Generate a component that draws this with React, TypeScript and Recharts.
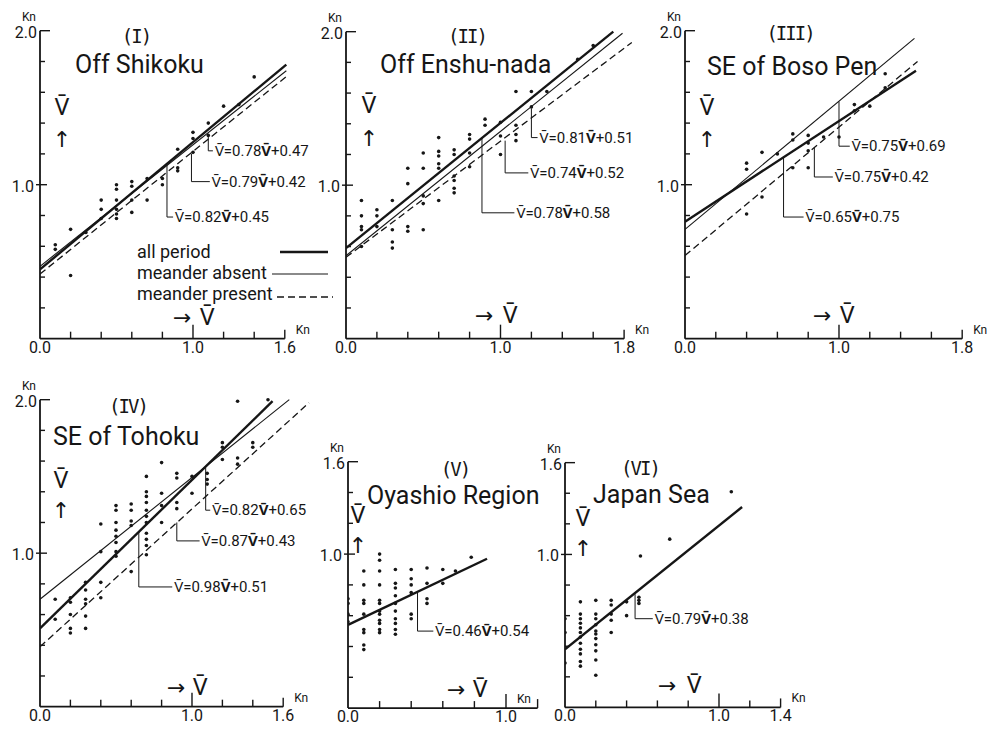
import React from 'react';
import { ScatterChart, Scatter, XAxis, YAxis, ReferenceLine, ReferenceDot, Legend } from 'recharts';

const INK = '#161616';
const FONT = 'Roboto, "Noto Sans", "DejaVu Sans", sans-serif';
const MONO = '"DejaVu Sans Mono", monospace';
const VBAR = 'V\u0304';

type Pair = [number, number];

// ---------- tick values / labels ----------
const xTicks12 = [0, 0.2, 0.4, 0.6, 0.8, 1.0, 1.2];
const xTicks14 = [0, 0.2, 0.4, 0.6, 0.8, 1.0, 1.2, 1.4];
const xTicks16 = [0, 0.2, 0.4, 0.6, 0.8, 1.0, 1.2, 1.4, 1.6];
const xTicks18 = [0, 0.2, 0.4, 0.6, 0.8, 1.0, 1.2, 1.4, 1.6, 1.8];
const yTicks16 = [0.2, 0.4, 0.6, 0.8, 1.0, 1.2, 1.4, 1.6];
const yTicks20 = [0.2, 0.4, 0.6, 0.8, 1.0, 1.2, 1.4, 1.6, 1.8, 2.0];
const xLabels16 = [{ v: 0, t: '0.0' }, { v: 1, t: '1.0' }, { v: 1.6, t: '1.6', kn: true }];
const xLabels18 = [{ v: 0, t: '0.0' }, { v: 1, t: '1.0' }, { v: 1.8, t: '1.8', kn: true }];
const xLabels12 = [{ v: 0, t: '0.0' }, { v: 1, t: '1.0', kn: true }];
const xLabels14 = [{ v: 0, t: '0.0' }, { v: 1, t: '1.0' }, { v: 1.4, t: '1.4', kn: true }];
const yLabels20 = [{ v: 1, t: '1.0' }, { v: 2, t: '2.0', kn: true }];
const yLabels16 = [{ v: 1, t: '1.0' }, { v: 1.6, t: '1.6', kn: true }];

const legendLabels = ['all period', 'meander absent', 'meander present'];
const legendKinds = ['all', 'absent', 'present'];

// ---------- scatter points ----------
const shikokuPoints: Pair[] = [
  [0.1, 0.61], [0.1, 0.58], [0.2, 0.71], [0.2, 0.41], [0.3, 0.69],
  [0.4, 0.9], [0.4, 0.84], [0.4, 0.78],
  [0.5, 1.0], [0.5, 0.97], [0.5, 0.9], [0.5, 0.84], [0.5, 0.81], [0.5, 0.78],
  [0.6, 1.02], [0.6, 0.99], [0.6, 0.9], [0.6, 0.82],
  [0.7, 1.04], [0.7, 0.9], [0.8, 1.04], [0.8, 1.0],
  [0.9, 1.23], [0.9, 1.11], [0.9, 1.09], [1.0, 1.34], [1.0, 1.3], [1.0, 1.21],
  [1.1, 1.4], [1.1, 1.32], [1.2, 1.51], [1.3, 1.52], [1.4, 1.7],
];
const enshuPoints: Pair[] = [
  [0.1, 0.9], [0.1, 0.8], [0.1, 0.73], [0.1, 0.71], [0.1, 0.6],
  [0.2, 0.84], [0.2, 0.8], [0.2, 0.73],
  [0.3, 0.9], [0.3, 0.71], [0.3, 0.63], [0.3, 0.59],
  [0.4, 1.11], [0.4, 1.01], [0.4, 0.73], [0.4, 0.7],
  [0.5, 1.21], [0.5, 1.11], [0.5, 0.93], [0.5, 0.88], [0.5, 0.71],
  [0.6, 1.31], [0.6, 1.22], [0.6, 1.19], [0.6, 1.14], [0.6, 1.11], [0.6, 0.9],
  [0.7, 1.23], [0.7, 1.2], [0.7, 1.06], [0.7, 1.03], [0.7, 0.98], [0.7, 0.95],
  [0.8, 1.33], [0.8, 1.3], [0.8, 1.21], [0.8, 1.12],
  [0.9, 1.43], [0.9, 1.39], [1.0, 1.41], [1.0, 1.32], [1.0, 1.2],
  [1.1, 1.61], [1.1, 1.39], [1.1, 1.33], [1.1, 1.29],
  [1.2, 1.61], [1.2, 1.51], [1.3, 1.61], [1.5, 1.82], [1.6, 1.91],
];
const bosoPoints: Pair[] = [
  [0.4, 1.14], [0.4, 1.1], [0.4, 0.81], [0.5, 1.21], [0.5, 0.92], [0.6, 1.2],
  [0.7, 1.33], [0.7, 1.29], [0.7, 1.11],
  [0.8, 1.32], [0.8, 1.27], [0.8, 1.22], [0.8, 1.11],
  [0.9, 1.31], [1.0, 1.31], [1.1, 1.52], [1.1, 1.48], [1.2, 1.51], [1.3, 1.72], [1.3, 1.63],
];
const tohokuPoints: Pair[] = [
  [0.1, 0.7], [0.1, 0.57],
  [0.2, 0.71], [0.2, 0.68], [0.2, 0.6], [0.2, 0.51], [0.2, 0.48],
  [0.3, 0.81], [0.3, 0.76], [0.3, 0.7], [0.3, 0.67], [0.3, 0.59], [0.3, 0.51],
  [0.4, 1.19], [0.4, 1.01], [0.4, 0.81], [0.4, 0.71],
  [0.5, 1.31], [0.5, 1.28], [0.5, 1.2], [0.5, 1.15], [0.5, 1.11], [0.5, 1.07], [0.5, 1.01], [0.5, 0.98],
  [0.6, 1.32], [0.6, 1.28], [0.6, 1.21], [0.6, 1.18], [0.6, 0.88],
  [0.7, 1.5], [0.7, 1.4], [0.7, 1.37], [0.7, 1.33], [0.7, 1.28], [0.7, 1.24], [0.7, 1.2],
  [0.7, 1.13], [0.7, 1.09], [0.7, 1.05], [0.7, 0.99],
  [0.8, 1.59], [0.8, 1.39], [0.8, 1.31], [0.8, 1.2],
  [0.9, 1.52], [0.9, 1.49], [0.9, 1.33], [0.9, 1.29],
  [1.0, 1.5], [1.0, 1.39], [1.1, 1.52], [1.1, 1.48], [1.1, 1.45],
  [1.2, 1.72], [1.2, 1.69], [1.2, 1.61], [1.3, 1.99], [1.3, 1.62], [1.3, 1.58],
  [1.4, 1.72], [1.4, 1.69], [1.5, 2.0],
];
const oyashioPoints: Pair[] = [
  [0, 0.71], [0, 0.68], [0, 0.61], [0, 0.56],
  [0.1, 0.89], [0.1, 0.8], [0.1, 0.7], [0.1, 0.68], [0.1, 0.61], [0.1, 0.51], [0.1, 0.49], [0.1, 0.41], [0.1, 0.38],
  [0.2, 1.0], [0.2, 0.96], [0.2, 0.89], [0.2, 0.8], [0.2, 0.7], [0.2, 0.68], [0.2, 0.63], [0.2, 0.61],
  [0.2, 0.57], [0.2, 0.55], [0.2, 0.51], [0.2, 0.49],
  [0.3, 0.9], [0.3, 0.81], [0.3, 0.78], [0.3, 0.73], [0.3, 0.68], [0.3, 0.63], [0.3, 0.58], [0.3, 0.55], [0.3, 0.51], [0.3, 0.48],
  [0.4, 0.9], [0.4, 0.84], [0.4, 0.8], [0.4, 0.75], [0.4, 0.61], [0.4, 0.58],
  [0.5, 0.91], [0.5, 0.81], [0.5, 0.71], [0.5, 0.68],
  [0.6, 0.9], [0.6, 0.81], [0.68, 0.89], [0.78, 0.98],
];
const japanSeaPoints: Pair[] = [
  [0, 0.58], [0, 0.49], [0, 0.29],
  [0.1, 0.69], [0.1, 0.61], [0.1, 0.58], [0.1, 0.55], [0.1, 0.52], [0.1, 0.49], [0.1, 0.46],
  [0.1, 0.42], [0.1, 0.38], [0.1, 0.35], [0.1, 0.3], [0.1, 0.27],
  [0.2, 0.7], [0.2, 0.61], [0.2, 0.58], [0.2, 0.54], [0.2, 0.5], [0.2, 0.48], [0.2, 0.45],
  [0.2, 0.41], [0.2, 0.37], [0.2, 0.31], [0.2, 0.21],
  [0.3, 0.7], [0.3, 0.67], [0.3, 0.61], [0.3, 0.57], [0.3, 0.49],
  [0.4, 0.69], [0.4, 0.6], [0.48, 0.72], [0.48, 0.7], [0.48, 0.68],
  [0.49, 0.99], [0.68, 1.1], [1.08, 1.41],
];

// ---------- regression lines (end points) ----------
const shikokuAll: Pair[] = [[0, 0.45], [1.61, 1.78]];
const shikokuAbsent: Pair[] = [[0, 0.47], [1.61, 1.74]];
const shikokuPresent: Pair[] = [[0, 0.42], [1.62, 1.71]];
const enshuAll: Pair[] = [[0, 0.59], [1.73, 2.0]];
const enshuAbsent: Pair[] = [[0, 0.54], [1.79, 1.99]];
const enshuPresent: Pair[] = [[0, 0.53], [1.85, 1.93]];
const bosoAll: Pair[] = [[0, 0.76], [1.5, 1.74]];
const bosoAbsent: Pair[] = [[0, 0.71], [1.49, 1.95]];
const bosoPresent: Pair[] = [[0, 0.54], [1.51, 1.8]];
const tohokuAll: Pair[] = [[0, 0.51], [1.53, 1.99]];
const tohokuAbsent: Pair[] = [[0, 0.7], [1.64, 2.0]];
const tohokuPresent: Pair[] = [[0, 0.39], [1.77, 1.98]];
const oyashioAll: Pair[] = [[0, 0.54], [0.88, 0.97]];
const japanSeaAll: Pair[] = [[0, 0.38], [1.15, 1.31]];

// ---------- regression equations with their leader anchors (data units) ----------
const shikokuEqs = [
  { x: 1.1, yTop: 1.33, yBot: 1.22, xText: 1.13, coef: '0.78', icpt: '0.47' },
  { x: 0.99, yTop: 1.2, yBot: 1.02, xText: 1.11, coef: '0.79', icpt: '0.42' },
  { x: 0.83, yTop: 1.13, yBot: 0.79, xText: 0.87, coef: '0.82', icpt: '0.45' },
];
const enshuEqs = [
  { x: 1.2, yTop: 1.5, yBot: 1.31, xText: 1.24, coef: '0.81', icpt: '0.51' },
  { x: 1.03, yTop: 1.29, yBot: 1.08, xText: 1.18, coef: '0.74', icpt: '0.52' },
  { x: 0.88, yTop: 1.31, yBot: 0.82, xText: 1.09, coef: '0.78', icpt: '0.58' },
];
const bosoEqs = [
  { x: 1.0, yTop: 1.54, yBot: 1.25, xText: 1.07, coef: '0.75', icpt: '0.69' },
  { x: 0.84, yTop: 1.24, yBot: 1.05, xText: 0.96, coef: '0.75', icpt: '0.42' },
  { x: 0.64, yTop: 1.18, yBot: 0.79, xText: 0.77, coef: '0.65', icpt: '0.75' },
];
const tohokuEqs = [
  { x: 1.09, yTop: 1.56, yBot: 1.28, xText: 1.12, coef: '0.82', icpt: '0.65' },
  { x: 0.9, yTop: 1.2, yBot: 1.08, xText: 1.05, coef: '0.87', icpt: '0.43' },
  { x: 0.65, yTop: 1.14, yBot: 0.78, xText: 0.87, coef: '0.98', icpt: '0.51' },
];
const oyashioEqs = [{ x: 0.44, yTop: 0.75, yBot: 0.5, xText: 0.54, coef: '0.46', icpt: '0.54' }];
const japanSeaEqs = [{ x: 0.455, yTop: 0.74, yBot: 0.58, xText: 0.57, coef: '0.79', icpt: '0.38' }];

// ---------- styles ----------
const lineStyles: Record<string, any> = {
  all: { stroke: INK, strokeWidth: 2.4 },
  absent: { stroke: INK, strokeWidth: 1.1 },
  present: { stroke: INK, strokeWidth: 1.3, strokeDasharray: '7 4' },
};

const toPts = (a: Pair[]) => a.map(([x, y]) => ({ x, y }));
const near = (a: number, b: number) => Math.abs(a - b) < 1e-6;

const LW = 50, TM = 40, RM = 70, BH = 30;

const panels = [
  {
    id: 'I', ox: 40, oy: 339, px: 153, py: 154, xMax: 1.65, yMax: 2.05, xEnd: 1.6, yEnd: 2.0,
    xTicks: xTicks16, yTicks: yTicks20, xLabels: xLabels16, yLabels: yLabels20,
    points: shikokuPoints, lines: [['all', shikokuAll], ['absent', shikokuAbsent], ['present', shikokuPresent]],
    eqs: shikokuEqs, legend: true,
    numeral: { t: '(I)', x: 136, y: 43 }, title: { t: 'Off Shikoku', x: 75, y: 73 },
    vUp: { x: 62, y: 115, ay: 147 }, vRight: { ax: 173, vx: 200, y: 325 },
  },
  {
    id: 'II', ox: 346, oy: 339, px: 154.5, py: 153.5, xMax: 1.88, yMax: 2.05, xEnd: 1.8, yEnd: 2.0,
    xTicks: xTicks18, yTicks: yTicks20, xLabels: xLabels18, yLabels: yLabels20,
    points: enshuPoints, lines: [['all', enshuAll], ['absent', enshuAbsent], ['present', enshuPresent]],
    eqs: enshuEqs, legend: false,
    numeral: { t: '(II)', x: 467, y: 43 }, title: { t: 'Off Enshu-nada', x: 380, y: 73 },
    vUp: { x: 369, y: 113, ay: 146 }, vRight: { ax: 475, vx: 503, y: 323 },
  },
  {
    id: 'III', ox: 685, oy: 339, px: 154, py: 154, xMax: 1.8, yMax: 2.05, xEnd: 1.8, yEnd: 2.0,
    xTicks: xTicks18, yTicks: yTicks20, xLabels: xLabels18, yLabels: yLabels20,
    points: bosoPoints, lines: [['all', bosoAll], ['absent', bosoAbsent], ['present', bosoPresent]],
    eqs: bosoEqs, legend: false,
    numeral: { t: '(III)', x: 790, y: 40 }, title: { t: 'SE of Boso Pen', x: 707, y: 75 },
    vUp: { x: 707, y: 115, ay: 147 }, vRight: { ax: 813, vx: 840, y: 323 },
  },
  {
    id: 'IV', ox: 40, oy: 707, px: 152, py: 153.5, xMax: 1.8, yMax: 2.05, xEnd: 1.6, yEnd: 2.0,
    xTicks: xTicks16, yTicks: yTicks20, xLabels: xLabels16, yLabels: yLabels20,
    points: tohokuPoints, lines: [['all', tohokuAll], ['absent', tohokuAbsent], ['present', tohokuPresent]],
    eqs: tohokuEqs, legend: false,
    numeral: { t: '(IV)', x: 128, y: 413 }, title: { t: 'SE of Tohoku', x: 53, y: 445 },
    vUp: { x: 61, y: 488, ay: 518 }, vRight: { ax: 167, vx: 193, y: 695 },
  },
  {
    id: 'V', ox: 348, oy: 708, px: 158, py: 154, xMax: 1.2, yMax: 1.65, xEnd: 1.2, yEnd: 1.6,
    xTicks: xTicks12, yTicks: yTicks16, xLabels: xLabels12, yLabels: yLabels16,
    points: oyashioPoints, lines: [['all', oyashioAll]],
    eqs: oyashioEqs, legend: false,
    numeral: { t: '(V)', x: 455, y: 476 }, title: { t: 'Oyashio Region', x: 367, y: 504 },
    vUp: { x: 358, y: 523, ay: 553 }, vRight: { ax: 447, vx: 473, y: 697 },
  },
  {
    id: 'VI', ox: 565, oy: 707, px: 154, py: 153, xMax: 1.4, yMax: 1.65, xEnd: 1.4, yEnd: 1.6,
    xTicks: xTicks14, yTicks: yTicks16, xLabels: xLabels14, yLabels: yLabels16,
    points: japanSeaPoints, lines: [['all', japanSeaAll]],
    eqs: japanSeaEqs, legend: false,
    numeral: { t: '(VI)', x: 640, y: 475 }, title: { t: 'Japan Sea', x: 593, y: 503 },
    vUp: { x: 583, y: 526, ay: 556 }, vRight: { ax: 658, vx: 687, y: 693 },
  },
];

function XTick(props: any) {
  const { x, y, payload, cfg } = props;
  const v = Number(payload.value);
  let len = 7;
  if (near(v, 0)) len = 0;
  else if (near(v, 1)) len = 14;
  else if (near(v, cfg.xEnd)) len = 9;
  const lab = cfg.xLabels.find((l: any) => near(l.v, v));
  return (
    <g>
      {len > 0 && <line x1={x} y1={y} x2={x} y2={y - len} stroke={INK} strokeWidth={1.4} />}
      {lab && (
        <text x={x} y={y + 14} textAnchor="middle" fontSize={16} fontFamily={FONT} fill={INK}>{lab.t}</text>
      )}
      {lab && lab.kn && (
        <text x={x + 11} y={y - 5} fontSize={12} fontFamily={FONT} fill={INK}>Kn</text>
      )}
    </g>
  );
}

function YTick(props: any) {
  const { x, y, payload, cfg } = props;
  const v = Number(payload.value);
  const top = near(v, cfg.yEnd);
  const one = near(v, 1);
  const x1 = one ? x - 4 : x;
  const x2 = top ? x + 10 : one ? x + 7 : x + 5;
  const lab = cfg.yLabels.find((l: any) => near(l.v, v));
  return (
    <g>
      <line x1={x1} y1={y} x2={x2} y2={y} stroke={INK} strokeWidth={1.4} />
      {lab && (
        <text x={top ? x - 3 : x - 6} y={y + 7} textAnchor="end" fontSize={16} fontFamily={FONT} fill={INK}>{lab.t}</text>
      )}
      {lab && lab.kn && (
        <text x={x - 18} y={y - 10} fontSize={12} fontFamily={FONT} fill={INK}>Kn</text>
      )}
    </g>
  );
}

function EqText({ vb, coef, icpt }: any) {
  if (!vb) return null;
  return (
    <text x={vb.x + 2} y={vb.y + 5} fontSize={15} fontFamily={FONT} fill={INK}>
      <tspan>{VBAR + '=' + coef}</tspan>
      <tspan fontWeight={700}>{VBAR}</tspan>
      <tspan>{'+' + icpt}</tspan>
    </text>
  );
}

const legendLineX = [[143, 191], [135, 191], [140, 196]];
const legendLineY = [12, 34, 57];

function LegendContent() {
  return (
    <svg width={220} height={70} style={{ display: 'block', overflow: 'visible' }}>
      {legendLabels.map((name, i) => (
        <g key={name}>
          <text x={0} y={18 + 21 * i} fontSize={18} fontFamily={FONT} fill={INK}>{name}</text>
          <line x1={legendLineX[i][0]} x2={legendLineX[i][1]} y1={legendLineY[i]} y2={legendLineY[i]}
            {...lineStyles[legendKinds[i]]} />
        </g>
      ))}
    </svg>
  );
}

const Dot = (p: any) => <circle cx={p.cx} cy={p.cy} r={1.8} fill={INK} />;
const NoShape = () => <g />;

function Panel({ cfg }: { cfg: any }) {
  const { ox, oy, px, py, xMax, yMax } = cfg;
  const left = ox - LW;
  const top = oy - yMax * py - TM;
  const width = LW + xMax * px + RM;
  const height = TM + yMax * py + BH;
  const L = (ax: number) => ax - left;
  const T = (ay: number) => ay - top;
  return (
    <div style={{ position: 'absolute', left, top, width, height }}>
      <ScatterChart width={width} height={height} margin={{ top: TM, right: RM, left: 0, bottom: 0 }}>
        <XAxis type="number" dataKey="x" domain={[0, xMax]} allowDataOverflow ticks={cfg.xTicks} interval={0}
          axisLine={false} tickLine={false} tickSize={0} tickMargin={0} height={BH}
          tick={(p: any) => <XTick {...p} cfg={cfg} />} />
        <YAxis type="number" dataKey="y" domain={[0, yMax]} allowDataOverflow ticks={cfg.yTicks} interval={0}
          axisLine={false} tickLine={false} tickSize={0} tickMargin={0} width={LW}
          tick={(p: any) => <YTick {...p} cfg={cfg} />} />
        <ReferenceLine segment={[{ x: 0, y: 0 }, { x: cfg.xEnd, y: 0 }]} stroke={INK} strokeWidth={1.8} ifOverflow="visible" />
        <ReferenceLine segment={[{ x: 0, y: 0 }, { x: 0, y: cfg.yEnd }]} stroke={INK} strokeWidth={1.8} ifOverflow="visible" />
        {cfg.eqs.map((e: any, i: number) => (
          <ReferenceLine key={'ev' + i} segment={[{ x: e.x, y: e.yTop }, { x: e.x, y: e.yBot }]}
            stroke={INK} strokeWidth={1} ifOverflow="visible" />
        ))}
        {cfg.eqs.map((e: any, i: number) => (
          <ReferenceLine key={'eh' + i} segment={[{ x: e.x, y: e.yBot }, { x: e.xText, y: e.yBot }]}
            stroke={INK} strokeWidth={1} ifOverflow="visible" />
        ))}
        {cfg.eqs.map((e: any, i: number) => (
          <ReferenceDot key={'et' + i} x={e.xText} y={e.yBot} r={0} ifOverflow="visible" stroke="none" fill="none"
            label={(lp: any) => <EqText vb={lp.viewBox} coef={e.coef} icpt={e.icpt} />} />
        ))}
        {cfg.lines.map(([kind, pts]: any, i: number) => (
          <Scatter key={'ln' + i} data={toPts(pts)} line={lineStyles[kind]} shape={NoShape}
            legendType="none" isAnimationActive={false} />
        ))}
        <Scatter data={toPts(cfg.points)} shape={Dot} legendType="none" isAnimationActive={false} />
        {cfg.legend && (
          <Legend layout="vertical" align="center" verticalAlign="middle" content={LegendContent}
            wrapperStyle={{ left: 137 - left, top: 240 - top, width: 220, height: 70 }} />
        )}
      </ScatterChart>
      <svg width={width} height={height} style={{ position: 'absolute', left: 0, top: 0, pointerEvents: 'none' }}>
        <text x={L(cfg.numeral.x)} y={T(cfg.numeral.y)} textAnchor="middle" fontSize={19} fontFamily={MONO}
          letterSpacing={-2} fill={INK}>{cfg.numeral.t}</text>
        <text x={L(cfg.title.x)} y={T(cfg.title.y)} fontSize={25} fontFamily={FONT} fill={INK}>{cfg.title.t}</text>
        <text x={L(cfg.vUp.x)} y={T(cfg.vUp.y)} textAnchor="middle" fontSize={24} fontFamily={FONT} fill={INK}>{VBAR}</text>
        <text x={L(cfg.vUp.x)} y={T(cfg.vUp.ay)} textAnchor="middle" fontSize={22} fontFamily={FONT} fill={INK}>↑</text>
        <text x={L(cfg.vRight.ax)} y={T(cfg.vRight.y)} fontSize={22} fontFamily={FONT} fill={INK}>→</text>
        <text x={L(cfg.vRight.vx)} y={T(cfg.vRight.y)} fontSize={24} fontFamily={FONT} fill={INK}>{VBAR}</text>
      </svg>
    </div>
  );
}

export default function App() {
  return (
    <div style={{ position: 'absolute', left: 0, top: 0, width: 995, height: 735, overflow: 'hidden', background: '#fff' }}>
      {panels.map((p) => <Panel key={p.id} cfg={p} />)}
    </div>
  );
}
